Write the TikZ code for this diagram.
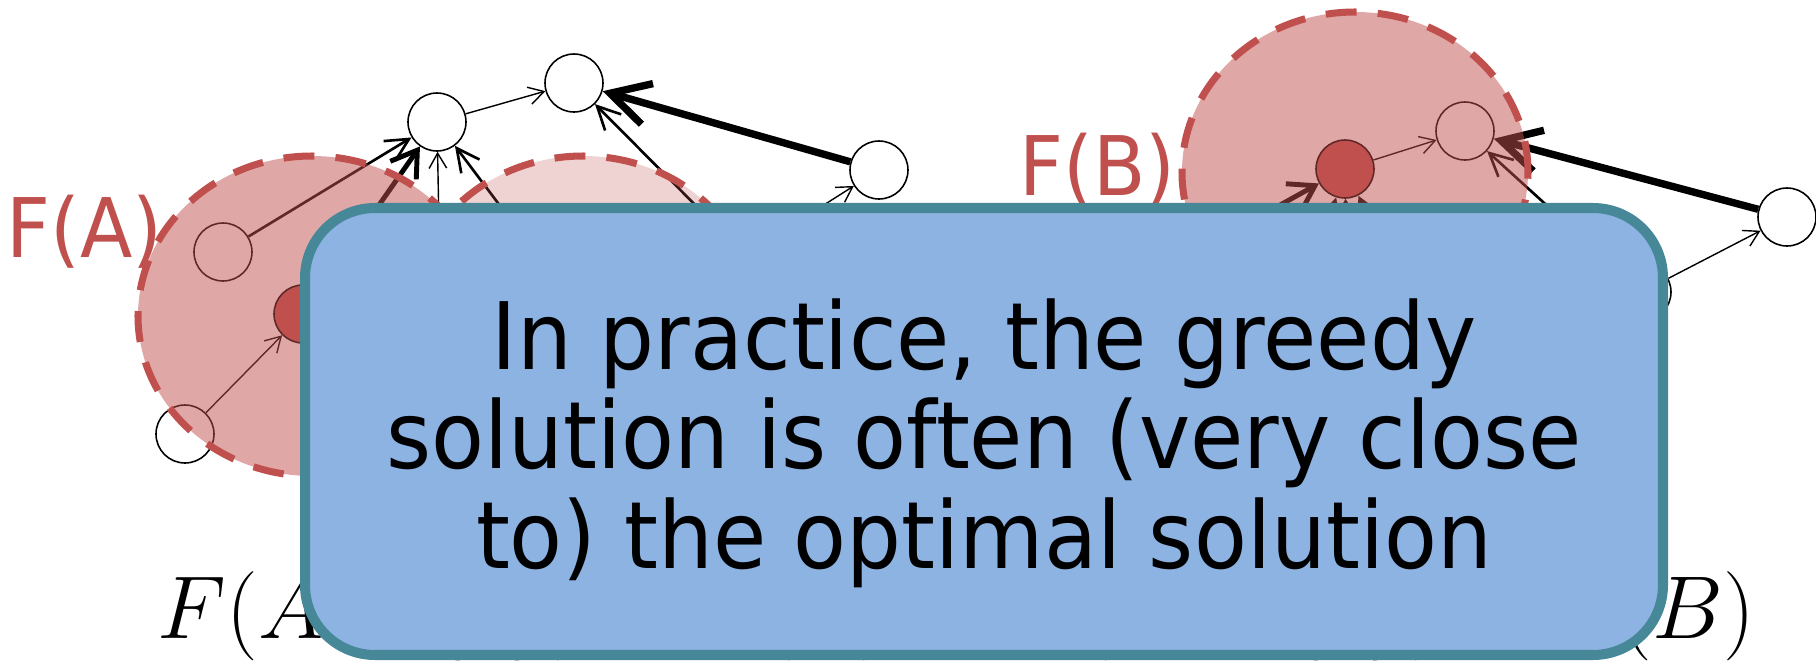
\RequirePackage{fix-cm}
\documentclass[tikz,border=0pt]{standalone}
\usepackage{fontspec}
\setsansfont[FakeStretch=0.93]{DejaVu Sans}
\usetikzlibrary{arrows.meta, positioning, shapes.geometric}
\definecolor{setred}{RGB}{192,80,77}
\definecolor{calloutblue}{RGB}{141,179,226}
\definecolor{calloutteal}{RGB}{70,136,152}

\begin{document}
\begin{tikzpicture}[
    x=0.1mm, y=-0.1mm,
    vtx/.style={
        circle, draw=black, line width=0.45pt,
        fill=white, minimum size=5.8mm, inner sep=0pt
    },
    picked/.style={vtx, fill=setred},
    arrthin/.style={-{Straight Barb[length=4.3pt,width=5pt]}, line width=0.4pt},
    arrmed/.style={-{Straight Barb[length=6.5pt,width=6.5pt]}, line width=0.75pt},
    arrthick/.style={-{Straight Barb[length=7pt,width=9pt]}, line width=1.4pt},
    arrheavy/.style={-{Straight Barb[length=11pt,width=12pt]}, line width=2.1pt},
    region/.style={
        draw=setred, line width=2pt, dash pattern=on 3.1mm off 2.1mm,
        fill=setred, fill opacity=0.5
    },
    setlabel/.style={
        font=\sffamily\fontsize{23.4pt}{28pt}\selectfont,
        text=setred, inner sep=0pt, anchor=base west
    },
    callout/.style={
        rectangle, rounded corners=7mm,
        draw=calloutteal, fill=calloutblue, line width=2.85pt,
        minimum width=135.8mm, minimum height=44.7mm
    },
    msgtext/.style={
        font=\sffamily\fontsize{26.5pt}{28.2pt}\selectfont,
        align=center, inner sep=0pt, anchor=base
    }
]
\useasboundingbox (0,0) rectangle (1816,663);

% left graph
\node[vtx] (ta) at (437,122) {};
\node[vtx] (tb) at (574,83) {};
\node[vtx] (rt) at (879,170) {};
\node[vtx] (a1) at (223,252) {};
\node[picked] (a2) at (303,314) {};
\node[vtx] (lo) at (185,434) {};
\coordinate (h1) at (441,330);
\coordinate (h2) at (583,316);
\coordinate (h3) at (745,255);

\draw[arrmed] (a1) -- (ta);
\draw[arrthin] (lo) -- (a2);
\draw[arrthick] (a2) -- (ta);
\draw[arrthin] (h1) -- (ta);
\draw[arrmed] (h2) -- (ta);
\draw[arrthin] (ta) -- (tb);
\draw[arrheavy] (rt) -- (tb);
\draw[arrmed] (h3) -- (tb);
\draw[arrthin] (h3) -- (rt);

% right graph
\node[picked] (rd) at (1345,169) {};
\node[vtx] (rb) at (1465,131) {};
\node[vtx] (rr) at (1787,217) {};
\node[vtx] (rh) at (1642,292) {};
\coordinate (k1) at (1190,255);
\coordinate (k2) at (1295,330);
\coordinate (k3) at (1348,330);
\coordinate (k4) at (1420,320);

\draw[arrthin] (rd) -- (rb);
\draw[arrheavy] (rr) -- (rb);
\draw[arrmed] (rh) -- (rb);
\draw[arrthin] (rh) -- (rr);
\draw[arrthick] (k1) -- (rd);
\draw[arrmed] (k2) -- (rd);
\draw[arrthin] (k3) -- (rd);
\draw[arrmed] (k4) -- (rd);

% sets
\draw[region] (312,316) ellipse [x radius=17.4mm, y radius=16mm];
\draw[region, fill opacity=0.25] (583,316) ellipse [x radius=17.4mm, y radius=16mm];
\draw[region] (1355,172) ellipse [x radius=17.3mm, y radius=16mm];

\node[setlabel] (fa) at (6,257) {F(A)};
\node[setlabel] (fb) at (1019,195) {F(B)};

\node[anchor=base west, inner sep=0pt, font=\fontsize{25.4pt}{30pt}\selectfont]
    (ineq) at (157,638) {$F(A\cup\{s\})-F(A)\geq F(B\cup\{s\})-F(B)$};

\node[callout] (box) at (984,431.5) {};
\node[msgtext] (msg) at (984,568)
    {In practice, the greedy\\solution is often (very close\\to) the optimal solution};
\end{tikzpicture}
\end{document}
